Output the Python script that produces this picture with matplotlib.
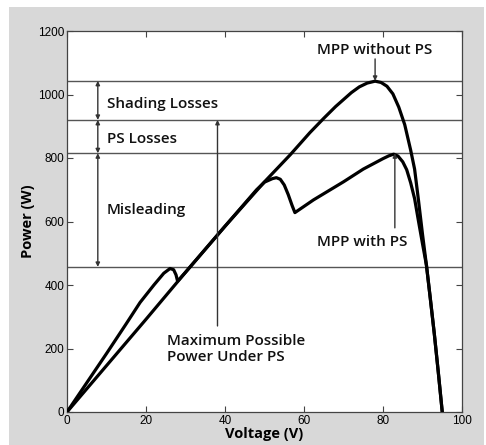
import numpy as np
import matplotlib
matplotlib.use('Agg')
import matplotlib.pyplot as plt
from matplotlib.patches import Rectangle

# P-V curves, with and without partial shading (PS)
v_full = [0, 10, 20, 30, 40, 50, 56.5, 61.5, 65, 68, 70, 72, 74, 76, 78, 79.5,
          81, 82.5, 84, 85.5, 87, 88, 89, 90, 91, 92, 93, 94, 95]
p_full = [0, 146, 292, 440, 585, 725, 810, 880, 925, 962, 984, 1006, 1024, 1036, 1042, 1038,
          1026, 1002, 960, 905, 825, 765, 665, 560, 462, 355, 245, 125, 0]

v_ps = [0, 5, 10, 15, 18.5, 22, 24.5, 26.1, 27, 27.6, 28, 30, 40, 48, 50, 52, 53, 54,
        55, 56, 57, 57.7, 62.4, 70, 75, 80, 81.5, 82.7, 83.8, 85, 86, 87, 88, 89,
        90, 91, 92, 93, 94, 95]
p_ps = [0, 92, 184, 278, 345, 400, 437, 452, 448, 432, 412, 440, 585, 700, 724, 735, 738, 733,
        715, 685, 650, 628, 668, 725, 765, 798, 807, 812, 806, 788, 763, 722, 672, 600,
        530, 462, 355, 245, 125, 0]

levels = [1043, 920, 815, 457]

fig = plt.figure(figsize=(4.86, 4.45), dpi=100)
fig.patch.set_facecolor('white')
fig.patches.append(Rectangle((9 / 486, 0), 475 / 486, 438 / 445, transform=fig.transFigure,
                             facecolor='#d8d8d8', edgecolor='none', zorder=-10))

ax = fig.add_axes([67 / 486, 33 / 445, 395 / 486, 381 / 445])
ax.set_xlim(0, 100)
ax.set_ylim(0, 1200)

for lv in levels:
    ax.axhline(lv, color='#555555', lw=1.0, zorder=1)

ax.plot(v_full, p_full, color='black', lw=2.3, zorder=3, solid_joinstyle='round')
ax.plot(v_ps, p_ps, color='black', lw=2.3, zorder=3, solid_joinstyle='round')

ax.set_xticks([0, 20, 40, 60, 80, 100])
ax.set_yticks([0, 200, 400, 600, 800, 1000, 1200])
ax.tick_params(direction='in', length=4, width=0.8, top=True, right=True,
               labelsize=8.5, pad=2, color='#444444')
for lab in ax.get_xticklabels() + ax.get_yticklabels():
    lab.set_family('Liberation Sans')
for s in ax.spines.values():
    s.set_color('#444444')
    s.set_linewidth(0.9)

lbl = dict(family='Open Sans', fontweight='bold', fontsize=10.5)
ax.set_xlabel('Voltage (V)', labelpad=0, **lbl)
ax.set_ylabel('Power (W)', labelpad=2, **lbl)

txt = dict(family='Open Sans', fontweight='semibold', fontsize=11, color='#111111')
arr = dict(arrowstyle='-|>', color='#333333', lw=1.0, mutation_scale=6, shrinkA=0, shrinkB=0)
dbl = dict(arrowstyle='<|-|>', color='#333333', lw=1.0, mutation_scale=6, shrinkA=0, shrinkB=0)

# loss brackets on the left
ax.annotate('', xy=(7.8, levels[0]), xytext=(7.8, levels[1]), arrowprops=dbl)
ax.annotate('', xy=(7.8, levels[1]), xytext=(7.8, levels[2]), arrowprops=dbl)
ax.annotate('', xy=(7.8, levels[2]), xytext=(7.8, levels[3]), arrowprops=dbl)
ax.text(10.1, 970, 'Shading Losses', ha='left', va='center', **txt)
ax.text(10.1, 860, 'PS Losses', ha='left', va='center', **txt)
ax.text(10.1, 636, 'Misleading', ha='left', va='center', **txt)

# MPP labels
ax.text(78, 1140, 'MPP without PS', ha='center', va='center', **txt)
ax.annotate('', xy=(78, levels[0]), xytext=(78, 1112), arrowprops=arr)
ax.text(74.7, 535, 'MPP with PS', ha='center', va='center', **txt)
ax.annotate('', xy=(83, levels[2]), xytext=(83, 580), arrowprops=arr)

# maximum possible power under PS
ax.annotate('', xy=(38.1, levels[1]), xytext=(38.1, 271), arrowprops=arr)
ax.text(25.2, 199, 'Maximum Possible\nPower Under PS', ha='left', va='center',
        linespacing=1.2, **txt)

fig.savefig('out.png', dpi=100, facecolor=fig.get_facecolor())
